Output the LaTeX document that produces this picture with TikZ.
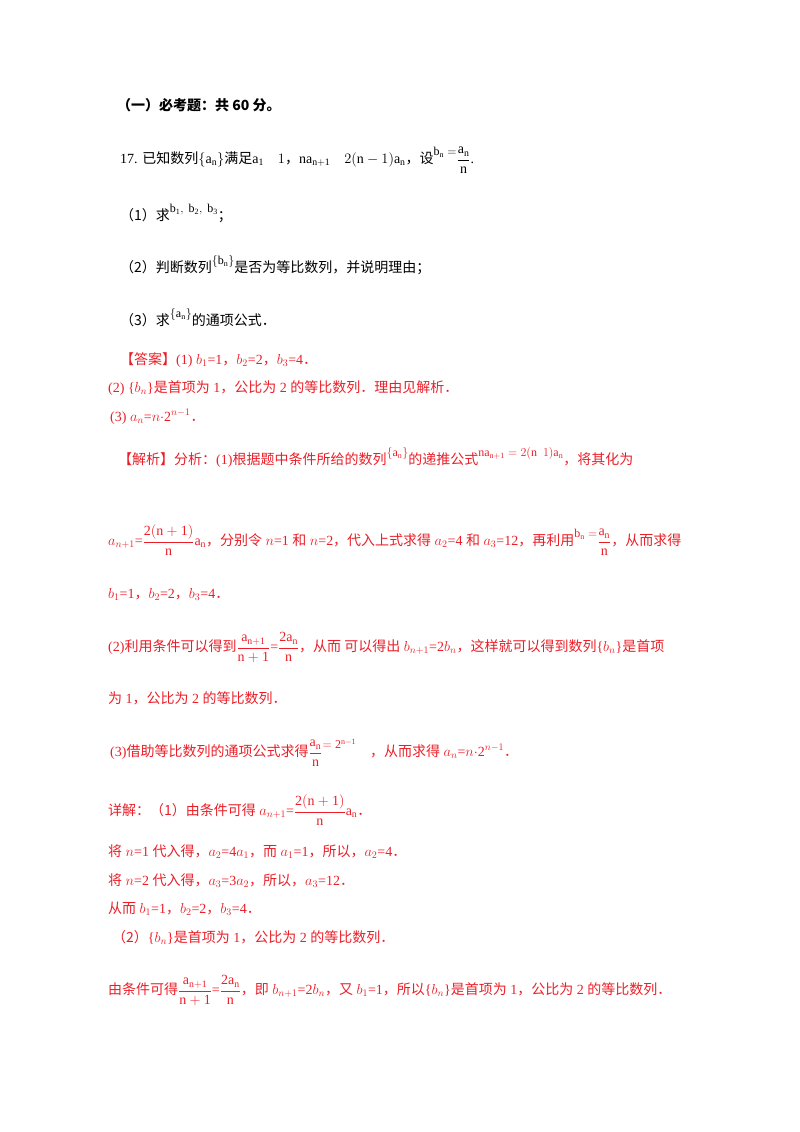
\documentclass[tikz,border=0pt]{standalone}
\usepackage{amsmath}
\usepackage{fontspec}
\setmainfont{Liberation Serif}
\newfontfamily\zhf{Noto Sans CJK SC}
\newcommand{\zh}[1]{{\zhf #1}}
\definecolor{ans}{RGB}{235,30,40}
\tikzset{ln/.style={anchor=base west,inner sep=0pt,font=\fontsize{14}{17}\selectfont},
 rd/.style={ln,text=ans}}
\newcommand{\fr}[2]{\raisebox{-0.1ex}{$\dfrac{\mathrm{#1}}{\mathrm{#2}}$}}
\newcommand{\up}[1]{\raisebox{1.1ex}{\fontsize{12}{14}\selectfont $#1$}}
\begin{document}
\begin{tikzpicture}[x=1pt,y=-1pt]
\useasboundingbox (0,0) rectangle (800,1132);
\node[ln] (h) at (117,110) {\zhf\bfseries （一）必考题：共 60 分。};
\node[ln] (q) at (120,163) {17. \zh{已知数列}$\{\mathrm{a_n}\}$\zh{满足}$\mathrm{a_1}\quad 1$\zh{，}$\mathrm{na_{n+1}}\quad 2(\mathrm{n}-1)\mathrm{a_n}$\zh{，设}\up{\mathrm{b_n}=}\fr{a_n}{n}.};
\node[ln] (q1) at (120,220) {\zh{（1）求}\up{\mathrm{b_1},\ \mathrm{b_2},\ \mathrm{b_3}}\zh{；}};
\node[ln] (q2) at (120,272) {\zh{（2）判断数列}\up{\{\mathrm{b_n}\}}\zh{是否为等比数列，并说明理由；}};
\node[ln] (q3) at (120,325) {\zh{（3）求}\up{\{\mathrm{a_n}\}}\zh{的通项公式．}};
\node[rd] (a1) at (120,364) {\zh{【答案】}(1) $b_1$=1\zh{，}$b_2$=2\zh{，}$b_3$=4\zh{．}};
\node[rd] (a2) at (108,392) {(2) \{$b_n$\}\zh{是首项为} 1\zh{，公比为} 2 \zh{的等比数列．理由见解析．}};
\node[rd] (a3) at (110,421) {(3) $a_n$=$n$$\cdot$2$^{n-1}$\zh{．}};
\node[rd] (j1) at (118,464) {\zh{【解析】分析：}(1)\zh{根据题中条件所给的数列}\up{\{\mathrm{a_n}\}}\zh{的递推公式}\up{\mathrm{na_{n+1}}=2(\mathrm{n}\ \ 1)\mathrm{a_n}}\zh{，将其化为}};
\node[rd] (j2) at (108,545) {$a_{n+1}$=\fr{2(n+1)}{n}$\mathrm{a_n}$\zh{，分别令} $n$=1 \zh{和} $n$=2\zh{，代入上式求得} $a_2$=4 \zh{和} $a_3$=12\zh{，再利用}\up{\mathrm{b_n}=}\fr{a_n}{n}\zh{，从而求得}};
\node[rd] (j3) at (108,598) {$b_1$=1\zh{，}$b_2$=2\zh{，}$b_3$=4\zh{．}};
\node[rd] (j4) at (108,651) {(2)\zh{利用条件可以得到}\fr{a_{n+1}}{n+1}=\fr{2a_n}{n}\zh{，从而 可以得出} $b_{n+1}$=2$b_n$\zh{，这样就可以得到数列}\{$b_n$\}\zh{是首项}};
\node[rd] (j5) at (108,703) {\zh{为} 1\zh{，公比为} 2 \zh{的等比数列．}};
\node[rd] (j6) at (110,756) {(3)\zh{借助等比数列的通项公式求得}\fr{a_n}{n}\up{=\mathrm{2^{n-1}}}\quad\zh{，从而求得} $a_n$=$n$$\cdot$2$^{n-1}$\zh{．}};
\node[rd] (x1) at (108,815) {\zh{详解：（1）由条件可得} $a_{n+1}$=\fr{2(n+1)}{n}$\mathrm{a_n}$\zh{．}};
\node[rd] (x2) at (108,856) {\zh{将} $n$=1 \zh{代入得，}$a_2$=4$a_1$\zh{，而} $a_1$=1\zh{，所以，}$a_2$=4\zh{．}};
\node[rd] (x3) at (108,885) {\zh{将} $n$=2 \zh{代入得，}$a_3$=3$a_2$\zh{，所以，}$a_3$=12\zh{．}};
\node[rd] (x4) at (108,913) {\zh{从而} $b_1$=1\zh{，}$b_2$=2\zh{，}$b_3$=4\zh{．}};
\node[rd] (x5) at (112,942) {\zh{（2）}\{$b_n$\}\zh{是首项为} 1\zh{，公比为} 2 \zh{的等比数列．}};
\node[rd] (x6) at (108,994) {\zh{由条件可得}\fr{a_{n+1}}{n+1}=\fr{2a_n}{n}\zh{，即} $b_{n+1}$=2$b_n$\zh{，又} $b_1$=1\zh{，所以}\{$b_n$\}\zh{是首项为} 1\zh{，公比为} 2 \zh{的等比数列．}};
\end{tikzpicture}
\end{document}
